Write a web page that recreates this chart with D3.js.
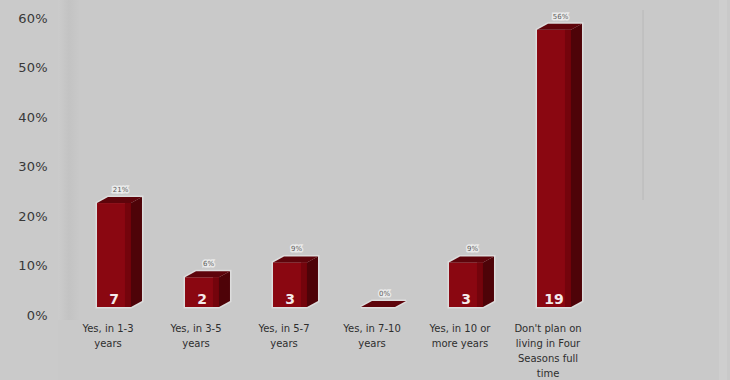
<!DOCTYPE html>
<html>
<head>
<meta charset="utf-8">
<script src="https://cdn.jsdelivr.net/npm/d3@7"></script>
<style>
  html, body { margin: 0; padding: 0; background: #c9c9c9; }
  svg { display: block; }
</style>
</head>
<body>
<svg id="chart" width="730" height="380"></svg>
<script>
// ---- data ----
const categories = [
  "Yes, in 1-3 years",
  "Yes, in 3-5 years",
  "Yes, in 5-7 years",
  "Yes, in 7-10 years",
  "Yes, in 10 or more years",
  "Don't plan on living in Four Seasons full time"
];
const categoryLines = [
  ["Yes, in 1-3", "years"],
  ["Yes, in 3-5", "years"],
  ["Yes, in 5-7", "years"],
  ["Yes, in 7-10", "years"],
  ["Yes, in 10 or", "more years"],
  ["Don't plan on", "living in Four", "Seasons full", "time"]
];
const counts = [7, 2, 3, 0, 3, 19];
const percents = [21, 6, 9, 0, 9, 56];
const percentLabels = ["21%", "6%", "9%", "0%", "9%", "56%"];
const yTicks = [0, 10, 20, 30, 40, 50, 60];

// ---- layout ----
const W = 730, H = 380;
const dx = 11, dy = 6;
const svg = d3.select("#chart");

svg.append("rect").attr("width", W).attr("height", H).attr("fill", "#c9c9c9");

// subtle wall edges
const defs = svg.append("defs");
const g1 = defs.append("linearGradient").attr("id", "wallEdge");
g1.append("stop").attr("offset", "0%").attr("stop-color", "#cdcdcd");
g1.append("stop").attr("offset", "50%").attr("stop-color", "#bfbfbf");
g1.append("stop").attr("offset", "100%").attr("stop-color", "#c9c9c9");
svg.append("rect").attr("x", 58).attr("y", 0).attr("width", 22).attr("height", 320).attr("fill", "url(#wallEdge)").attr("opacity", 0.6);
svg.append("rect").attr("x", 0).attr("y", 0).attr("width", 58).attr("height", 380).attr("fill", "#cdcdcd").attr("opacity", 0.4);
svg.append("line").attr("x1", 643).attr("x2", 643).attr("y1", 10).attr("y2", 200)
  .attr("stroke", "#b8b8b8").attr("stroke-width", 1);
svg.append("rect").attr("x", 719).attr("y", 0).attr("width", 8).attr("height", 380).attr("fill", "#d0d0d0").attr("opacity", 0.7);

const x = d3.scaleBand()
  .domain(categories)
  .range([70, 598])
  .paddingInner(0.614)
  .paddingOuter(0.307);

const y = d3.scaleLinear().domain([0, 60]).range([307, 10]);
const yLabel = d3.scaleLinear().domain([0, 60]).range([315, 18]);

// y axis labels
const yAxis = d3.axisLeft(yLabel)
  .tickValues(yTicks)
  .tickFormat(d => d + "%")
  .tickSize(0)
  .tickPadding(0);
const ya = svg.append("g").attr("transform", "translate(48,0)").call(yAxis);
ya.select(".domain").remove();
ya.selectAll("text")
  .attr("font-family", "DejaVu Sans, sans-serif")
  .attr("font-size", 13)
  .attr("letter-spacing", "0.3px")
  .attr("fill", "#383838");

// bars
const bars = svg.append("g");
categories.forEach((c, i) => {
  const x0 = x(c), x1 = x0 + x.bandwidth();
  const yt = y(percents[i]), yb = y(0);
  const g = bars.append("g");
  // soft halo
  g.append("path")
    .attr("d", `M${x0},${yb} L${x0},${yt} L${x0 + dx},${yt - dy} L${x1 + dx},${yt - dy} L${x1 + dx},${yb - dy} L${x1},${yb} Z`)
    .attr("fill", "none").attr("stroke", "#e6e6e6").attr("stroke-width", 3).attr("opacity", 0.7);
  if (percents[i] > 0) {
    g.append("rect").attr("x", x0).attr("y", yt).attr("width", x1 - x0).attr("height", yb - yt)
      .attr("fill", "#8a0711");
    g.append("rect").attr("x", x1 - 6).attr("y", yt).attr("width", 6).attr("height", yb - yt)
      .attr("fill", "#74040c");
    g.append("path")
      .attr("d", `M${x1},${yt} L${x1 + dx},${yt - dy} L${x1 + dx},${yb - dy} L${x1},${yb} Z`)
      .attr("fill", "#4e0308");
  }
  g.append("path")
    .attr("d", `M${x0},${yt} L${x0 + dx},${yt - dy} L${x1 + dx},${yt - dy} L${x1},${yt} Z`)
    .attr("fill", "#5e040b");

  // percent label above
  const px = (x0 + x1) / 2 + dx / 2 + 1;
  const py = yt - dy - 5;
  g.append("text").attr("x", px).attr("y", py)
    .attr("text-anchor", "middle")
    .attr("font-family", "DejaVu Sans, sans-serif").attr("font-size", 7)
    .attr("fill", "#5e5e5e")
    .attr("stroke", "#f2f2f2").attr("stroke-width", 3).attr("stroke-opacity", 0.8)
    .attr("paint-order", "stroke")
    .text(percentLabels[i]);

  // count inside bar
  if (percents[i] > 0) {
    g.append("text").attr("x", (x0 + x1) / 2).attr("y", yb - 3)
      .attr("text-anchor", "middle")
      .attr("font-family", "DejaVu Sans, sans-serif").attr("font-size", 14).attr("font-weight", "bold")
      .attr("fill", "#f4eaea")
      .text(counts[i]);
  }

  // category label
  const t = svg.append("text")
    .attr("text-anchor", "middle")
    .attr("font-family", "DejaVu Sans, sans-serif").attr("font-size", 10)
    .attr("fill", "#2e2e2e");
  categoryLines[i].forEach((ln, k) => {
    t.append("tspan").attr("x", x0 + 11).attr("y", 332 + k * 15).text(ln);
  });
});
</script>
</body>
</html>
